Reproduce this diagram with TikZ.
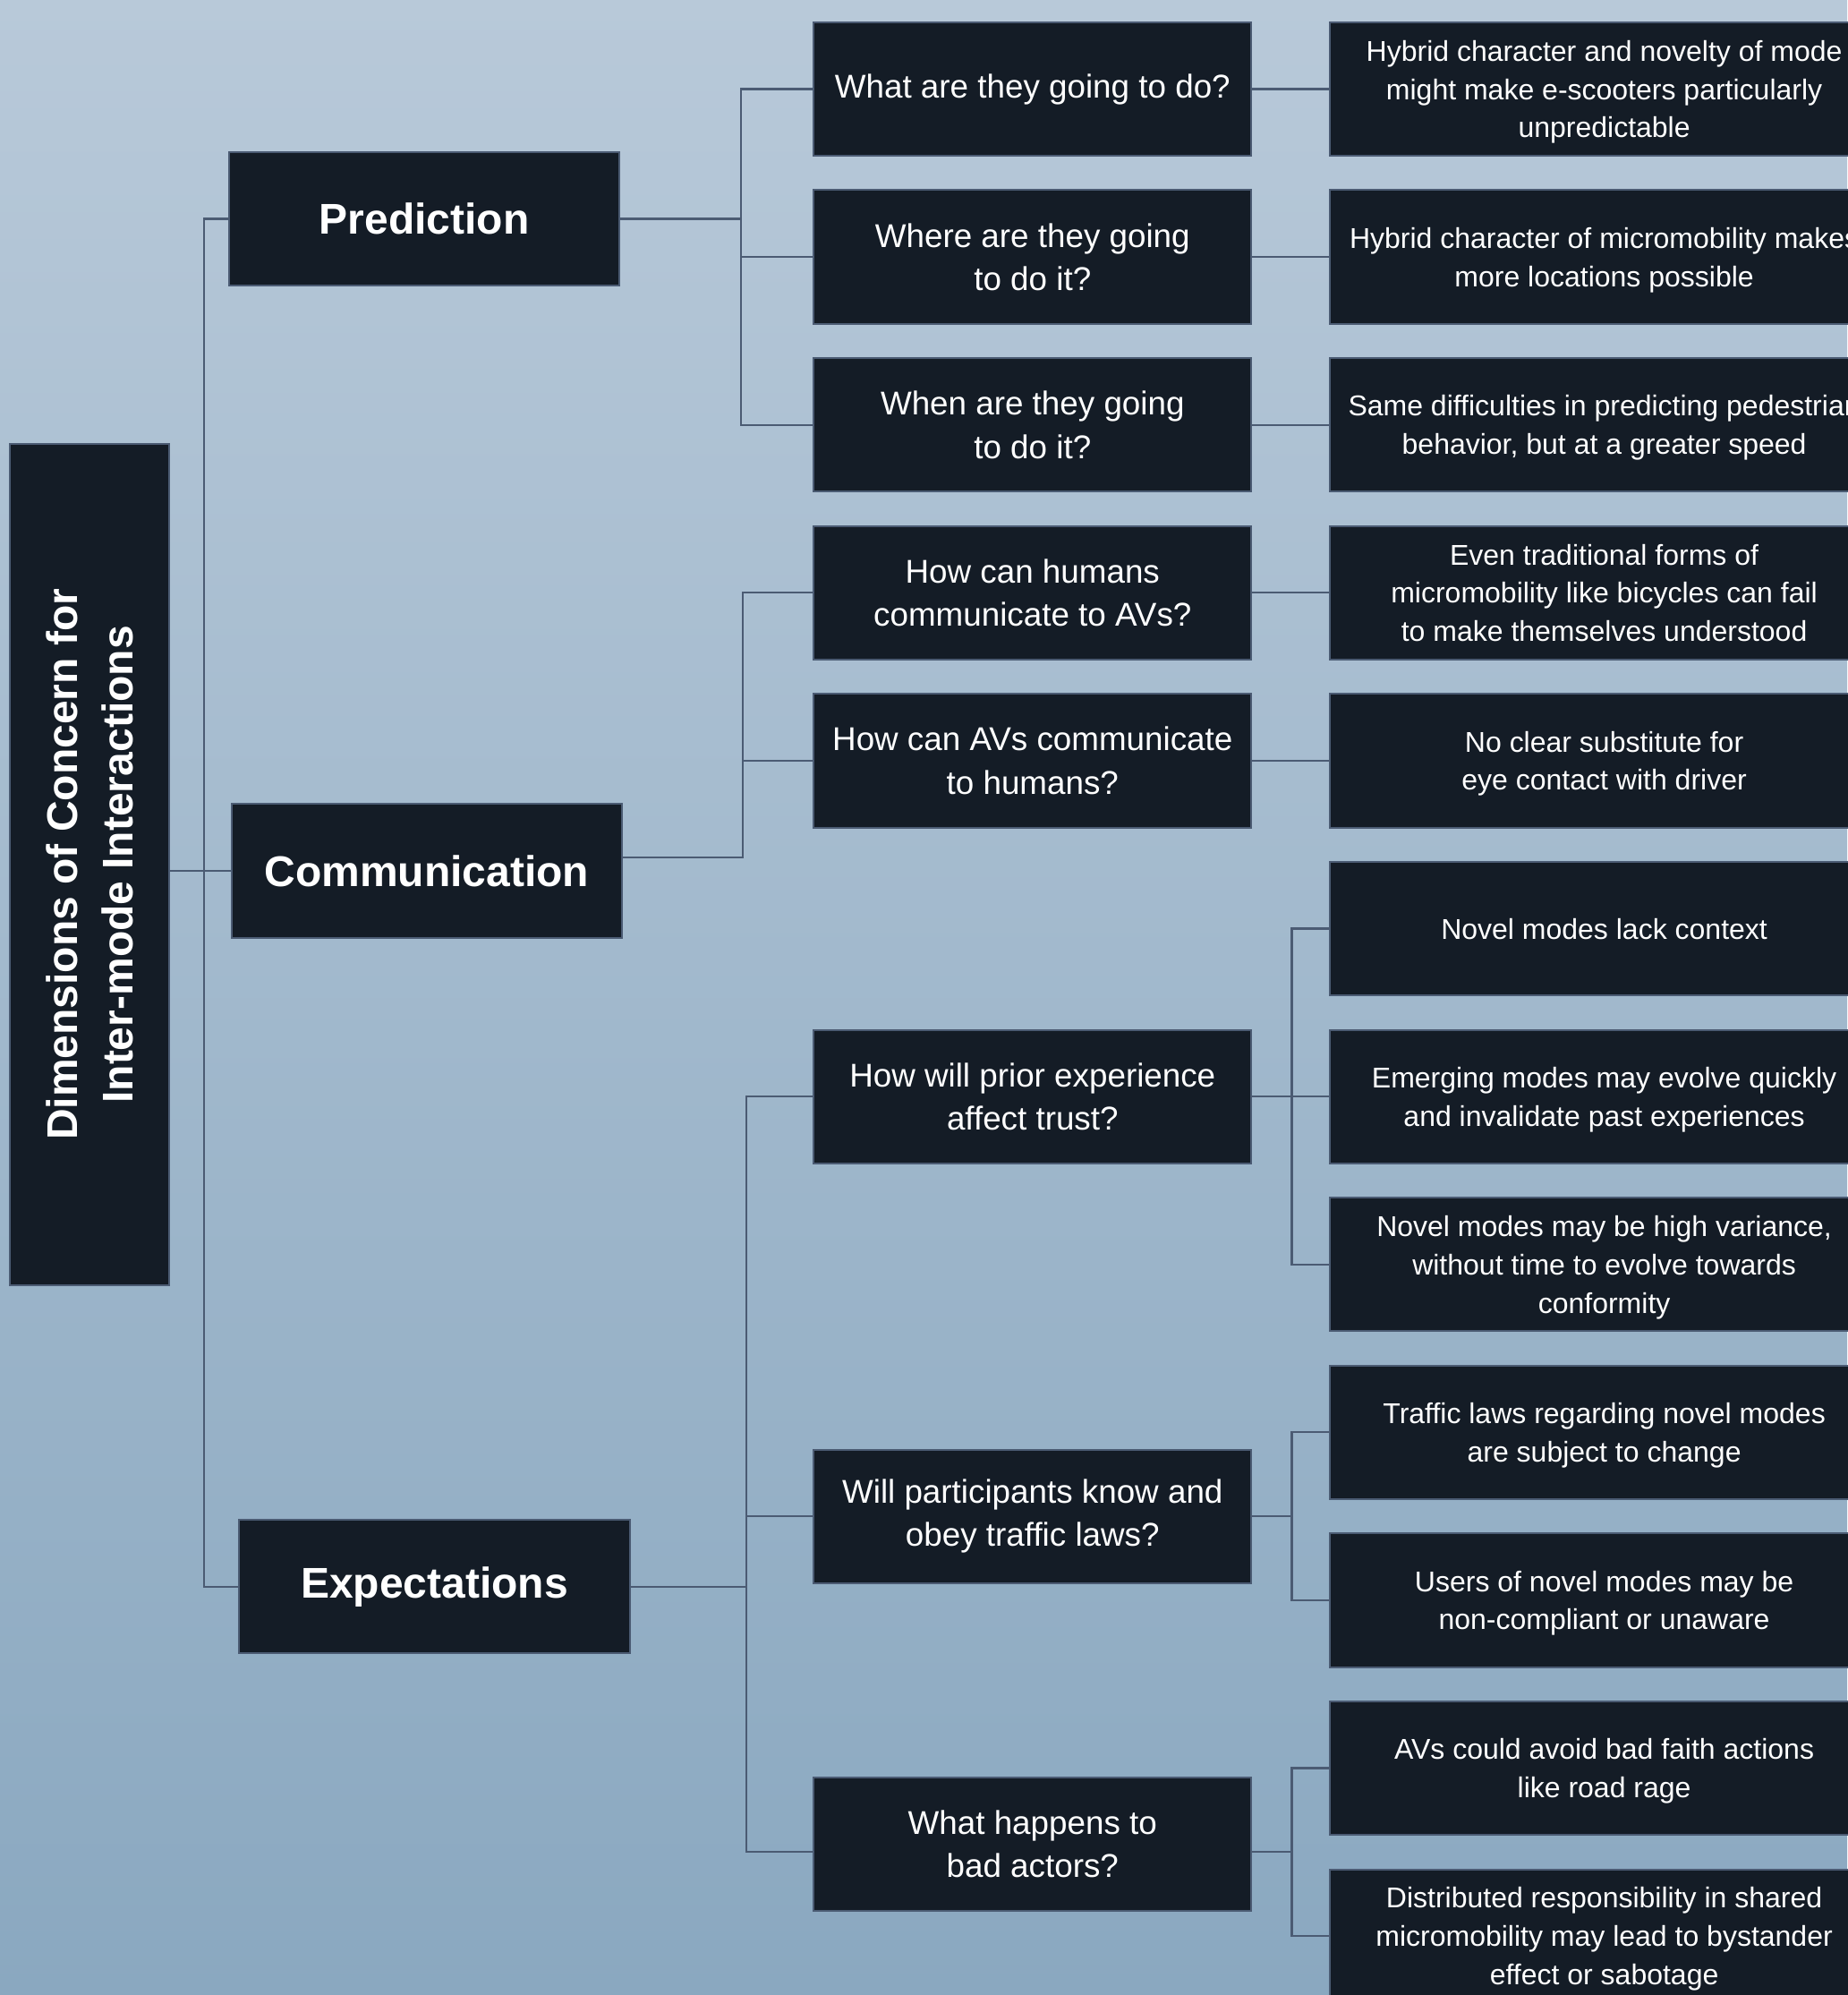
\documentclass[tikz,border=0pt]{standalone}
\usepackage{fontspec}
\setmainfont{Liberation Sans}
\usepackage{tikz}
\usetikzlibrary{positioning, calc}

\definecolor{boxfill}{HTML}{141C26}
\definecolor{boxedge}{HTML}{4B5B73}
\definecolor{bgtop}{HTML}{B8C9D9}
\definecolor{bgbottom}{HTML}{8AA8C0}

\begin{document}
\begin{tikzpicture}[
					x=0.3554pt, y=-0.3554pt,
					every node/.style={draw=boxedge, fill=boxfill, text=white, line width=0.5pt, align=center, inner sep=2pt},
					root/.style={minimum width=234.9pt, minimum height=44.4pt, rotate=90, font=\bfseries\fontsize{12}{15.6}\selectfont},
					topic/.style={minimum width=109.1pt, minimum height=37.3pt, font=\bfseries\fontsize{12}{14}\selectfont},
					question/.style={minimum width=122.3pt, minimum height=37.3pt, font=\fontsize{9.2}{12.1}\selectfont},
					answer/.style={minimum width=153.5pt, minimum height=37.3pt, text depth=0pt, font=\fontsize{8}{10.7}\selectfont},
					link/.style={draw=boxedge, line width=0.55pt},
					node distance=9.1pt and 21.3pt]
				\useasboundingbox (0,0) rectangle (1452,1568);
				\shade[top color=bgtop, bottom color=bgbottom] (0,0) rectangle (1452,1568);
				\node[answer] (a1) at (1261,70) {Hybrid character and novelty of mode\\might make e-scooters particularly\\unpredictable};
				\node[answer, below =of a1] (a2) {Hybrid character of micromobility makes\\more locations possible};
				\node[answer, below =of a2] (a3) {Same difficulties in predicting pedestrian\\behavior, but at a greater speed};
				\node[answer, below =of a3] (a4) {Even traditional forms of\\micromobility like bicycles can fail\\to make themselves understood};
				\node[answer, below =of a4] (a5) {No clear substitute for\\eye contact with driver};
				\node[answer, below =of a5] (a6) {Novel modes lack context};
				\node[answer, below =of a6] (a7) {Emerging modes may evolve quickly\\and invalidate past experiences};
				\node[answer, below =of a7] (a8) {Novel modes may be high variance,\\without time to evolve towards\\conformity};
				\node[answer, below =of a8] (a9) {Traffic laws regarding novel modes\\are subject to change};
				\node[answer, below =of a9] (a10) {Users of novel modes may be\\non-compliant or unaware};
				\node[answer, below =of a10] (a11) {AVs could avoid bad faith actions\\like road rage};
				\node[answer, below =of a11] (a12) {Distributed responsibility in shared\\micromobility may lead to bystander\\effect or sabotage};
				\coordinate (m7) at ($(a9.west)!0.5!(a10.west)$);
				\coordinate (m8) at ($(a11.west)!0.5!(a12.west)$);
				\node[question, left =of a1] (q1) {What are they going to do?};
				\node[question, left =of a2] (q2) {Where are they going\\to do it?};
				\node[question, left =of a3] (q3) {When are they going\\to do it?};
				\node[question, left =of a4] (q4) {How can humans\\communicate to AVs?};
				\node[question, left =of a5] (q5) {How can AVs communicate\\to humans?};
				\node[question, left =of a7] (q6) {How will prior experience\\affect trust?};
				\node[question, left =of m7] (q7) {Will participants know and\\obey traffic laws?};
				\node[question, left =of m8, yshift=2.3pt] (q8) {What happens to\\bad actors?};
				\node[topic] (pred) at (333.5,172) {Prediction};
				\node[topic] (comm) at (335.5,684.5) {Communication};
				\node[topic] (expe) at (341.5,1247) {Expectations};
				\node[root] (root) at (70.5,679.5) {Dimensions of Concern for\\Inter-mode Interactions};
				\draw[link] (root.south |- comm.west) -- (comm.west);
				\draw[link] (pred.west) -- ++(-19,0) |- (expe.west);
				\foreach \to in {q1, q2, q3}
					\draw[link] (pred.east) -- ++(95,0) |- (\to.west);
				\foreach \to in {q4, q5}
					\draw[link] ([yshift=3.7pt]comm.east) -- ++(94,0) |- (\to.west);
				\foreach \to in {q6, q7}
					\draw[link] (expe.east) -- ++(91,0) |- (\to.west);
				\draw[link] (expe.east) -- ++(91,0) |- ([yshift=-2.3pt]q8.west);
				\foreach \i in {1,...,5}
					\draw[link] (q\i) -- (a\i);
				\foreach \to in {a6, a7, a8}
					\draw[link] (q6.east) -- ++(31,0) |- (\to.west);
				\foreach \to in {a9, a10}
					\draw[link] (q7.east) -- ++(31,0) |- (\to.west);
				\foreach \to in {a11, a12}
					\draw[link] ([yshift=-2.3pt]q8.east) -- ++(31,0) |- (\to.west);
			\end{tikzpicture}
\end{document}
